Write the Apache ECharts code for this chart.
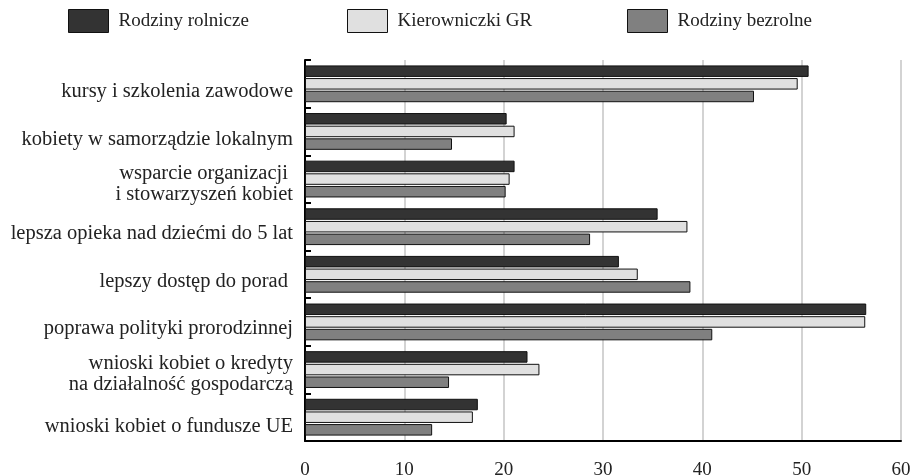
<!DOCTYPE html>
<html><head><meta charset="utf-8">
<script src="https://cdn.jsdelivr.net/npm/echarts@6/dist/echarts.min.js"></script>
<style>html,body{margin:0;padding:0;background:#fff}#c{width:913px;height:475px}</style>
</head><body><div id="c"></div>
<script>
var categories = [
  'kursy i szkolenia zawodowe',
  'kobiety w samorządzie lokalnym',
  'wsparcie organizacji \ni stowarzyszeń kobiet',
  'lepsza opieka nad dziećmi do 5 lat',
  'lepszy dostęp do porad ',
  'poprawa polityki prorodzinnej',
  'wnioski kobiet o kredyty\nna działalność gospodarczą',
  'wnioski kobiet o fundusze UE'
];
var seriesNames = ['Rodziny rolnicze', 'Kierowniczki GR', 'Rodziny bezrolne'];
var rolnicze = [50.7, 20.3, 21.1, 35.5, 31.6, 56.5, 22.4, 17.4];
var kierowniczki = [49.6, 21.1, 20.6, 38.5, 33.5, 56.4, 23.6, 16.9];
var bezrolne = [45.2, 14.8, 20.2, 28.7, 38.8, 41.0, 14.5, 12.8];
var xTicks = [0, 10, 20, 30, 40, 50, 60];

// label vertical nudges in px (style only)
var labelShift = [8, 8, 5, 7, 7, 7, 5, 9];

var colors = ['#333333', '#e0e0e0', '#808080'];
var font = 'Liberation Serif, Times New Roman, serif';
var chart = echarts.init(document.getElementById('c'), null, {renderer: 'canvas'});
var values = [rolnicze, kierowniczki, bezrolne];
var legendLefts = [68, 347, 627];

var baseText = {fontFamily: font, fontSize: 20.5, color: '#222', lineHeight: 21, align: 'right'};
var rich = {};
labelShift.forEach(function (s, i) {
  rich['s' + i] = Object.assign({}, baseText, {padding: [s * 2, 0, 0, 0]});
});

chart.setOption({
  animation: false,
  backgroundColor: '#fff',
  legend: seriesNames.map(function (n, i) {
    return {
      data: [{name: n, icon: 'rect'}], left: legendLefts[i], top: 9, padding: 0,
      itemWidth: 40, itemHeight: 23, itemGap: 10,
      itemStyle: {borderColor: '#111', borderWidth: 1},
      textStyle: {fontFamily: font, fontSize: 19, color: '#222', padding: [0, 0, 0, 5]},
      selectedMode: false
    };
  }),
  grid: {left: 305, right: 12, top: 60, bottom: 34, containLabel: false, outerBoundsMode: 'none'},
  xAxis: {
    type: 'value', min: xTicks[0], max: xTicks[xTicks.length - 1], interval: 10,
    axisLine: {show: true, lineStyle: {color: '#000', width: 2}},
    axisTick: {show: false},
    splitLine: {show: true, lineStyle: {color: '#c4c4c4', width: 1.5}},
    axisLabel: {fontFamily: font, fontSize: 19, color: '#222', margin: 20}
  },
  yAxis: {
    type: 'category', inverse: true, data: categories,
    axisLine: {show: true, lineStyle: {color: '#000', width: 2}},
    axisTick: {show: true, inside: true, length: 6, lineStyle: {color: '#000', width: 2}},
    axisLabel: {
      fontFamily: font, fontSize: 20.5, color: '#222', margin: 12, lineHeight: 21, align: 'right',
      formatter: function (v, i) {
        return v.split('\n').map(function (line) {
          return '{s' + i + '|' + line + '}';
        }).join('\n');
      },
      rich: rich
    }
  },
  series: seriesNames.map(function (n, i) {
    return {
      name: n, type: 'bar', data: values[i],
      barWidth: 11.5, barGap: '10%', barCategoryGap: '23%',
      itemStyle: {color: colors[i], borderColor: '#111', borderWidth: 1}
    };
  })
});
</script></body></html>
